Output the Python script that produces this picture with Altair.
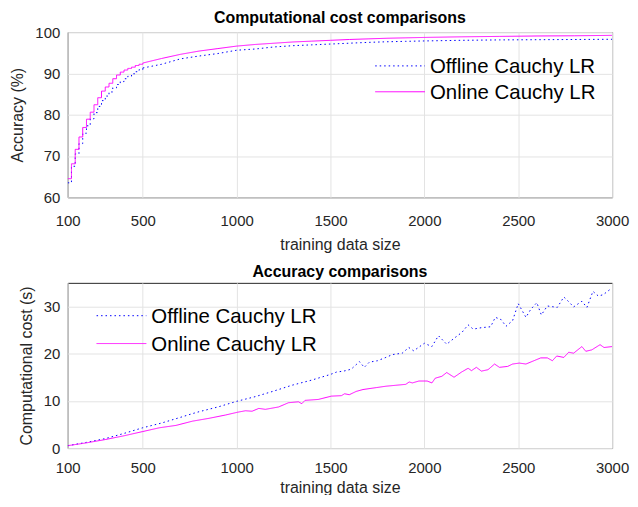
import altair as alt
import pandas as pd

SERIES = ["Offline Cauchy LR", "Online Cauchy LR"]
COLORS = ["#0000ff", "#ff00ff"]
DASHES = [[1.5, 3], [1, 0]]

# Top panel (accuracy, %)
top_x = [100, 120, 140, 160, 180, 200, 220, 240, 260, 280, 300, 320, 340, 360, 380, 400,
         420, 440, 460, 480, 500, 600, 700, 800, 900, 1000, 1100, 1200, 1300, 1400, 1500,
         1600, 1700, 1800, 1900, 2000, 2200, 2400, 2600, 2800, 3000]
top_offline = [63.5, 67.5, 70.5, 73.0, 75.5, 77.3, 79.0, 80.5, 82.0, 83.4, 84.5, 85.5, 86.5, 87.3,
               88.0, 88.7, 89.3, 89.9, 90.4, 90.9, 91.3, 92.2, 93.5, 94.2, 94.8, 95.6, 95.9, 96.4,
               96.7, 96.9, 97.1, 97.3, 97.5, 97.65, 97.75, 97.85, 98.0, 98.1, 98.15, 98.2, 98.25]
top_online = [64.5, 68.1, 71.6, 74.6, 76.9, 78.9, 80.6, 82.4, 84.1, 85.7, 86.7, 87.6, 88.7, 89.6,
              90.3, 90.8, 91.2, 91.5, 91.9, 92.2, 92.5, 93.6, 94.6, 95.4, 96.0, 96.6, 97.0, 97.3,
              97.6, 97.8, 98.0, 98.2, 98.35, 98.5, 98.6, 98.7, 98.85, 98.95, 99.05, 99.1, 99.2]

# Bottom panel (computational cost, s)
bot_off_x = [100, 200, 300, 400, 500, 600, 700, 765, 800, 900, 1000, 1100, 1200, 1294, 1400, 1500,
             1532, 1570, 1610, 1654, 1680, 1707, 1750, 1795, 1830, 1882, 1917, 1943, 2000, 2040,
             2075, 2119, 2163, 2200, 2233, 2260, 2304, 2353, 2378, 2409, 2435, 2470, 2500, 2541,
             2567, 2599, 2623, 2655, 2708, 2743, 2769, 2795, 2839, 2866, 2898, 2927, 2953, 2989, 3000]
bot_off_y = [0.5, 1.2, 2.0, 3.1, 4.3, 5.3, 6.5, 7.3, 7.7, 8.7, 9.9, 10.9, 12.1, 13.3, 14.4, 15.6,
             16.1, 16.3, 16.7, 18.3, 17.1, 18.2, 18.5, 19.2, 19.8, 20.1, 21.3, 20.6, 22.2, 21.5,
             23.8, 22.0, 23.4, 24.5, 26.1, 25.2, 25.5, 25.7, 27.7, 27.2, 25.8, 27.0, 30.6, 27.7,
             29.4, 30.8, 28.2, 30.1, 29.8, 32.0, 31.0, 29.9, 31.1, 29.8, 33.2, 32.2, 32.5, 33.6, 33.5]
bot_on_x = [100, 200, 300, 400, 500, 589, 677, 765, 853, 941, 1006, 1047, 1082, 1118, 1153, 1223,
            1276, 1329, 1347, 1364, 1435, 1505, 1558, 1575, 1600, 1637, 1673, 1743, 1795, 1848,
            1901, 1919, 1936, 1971, 2015, 2040, 2058, 2093, 2119, 2158, 2198, 2233, 2251, 2277,
            2304, 2339, 2374, 2400, 2444, 2470, 2506, 2541, 2620, 2655, 2682, 2705, 2743, 2769,
            2795, 2839, 2860, 2892, 2936, 2957, 3000]
bot_on_y = [0.5, 1.1, 1.8, 2.6, 3.5, 4.3, 4.8, 5.7, 6.3, 7.0, 7.6, 7.9, 7.8, 8.4, 8.2, 8.7,
            9.6, 9.8, 9.4, 10.1, 10.3, 11.0, 11.1, 11.5, 11.3, 12.0, 12.4, 12.8, 13.1, 13.3,
            13.5, 14.0, 13.8, 14.2, 14.2, 13.8, 14.8, 15.2, 16.0, 15.0, 16.1, 16.9, 16.4, 17.1,
            16.3, 16.6, 17.8, 17.1, 17.3, 17.8, 18.0, 17.8, 19.1, 19.1, 18.5, 19.5, 19.2, 20.3,
            20.1, 21.5, 20.5, 20.8, 21.9, 21.3, 21.5]

x_ticks = [100, 500, 1000, 1500, 2000, 2500, 3000]

top_df = pd.DataFrame({
    "x": top_x + top_x,
    "y": top_offline + top_online,
    "series": [SERIES[0]] * len(top_x) + [SERIES[1]] * len(top_x),
})
bot_df = pd.DataFrame({
    "x": bot_off_x + bot_on_x,
    "y": bot_off_y + bot_on_y,
    "series": [SERIES[0]] * len(bot_off_x) + [SERIES[1]] * len(bot_on_x),
})
leg_df = pd.DataFrame({"series": SERIES})

FONT = "Liberation Sans"
W = 547

color = alt.Color("series:N", scale=alt.Scale(domain=SERIES, range=COLORS), legend=None)
dash = alt.StrokeDash("series:N", scale=alt.Scale(domain=SERIES, range=DASHES), legend=None)


def xy(ytitle, ydomain, yticks, xpad, xtpad):
    return dict(
        x=alt.X("x:Q", scale=alt.Scale(domain=[100, 3000], nice=False),
                axis=alt.Axis(values=x_ticks, title="training data size", format="d", labelFlush=False,
                              labelPadding=xpad, titlePadding=xtpad)),
        y=alt.Y("y:Q", scale=alt.Scale(domain=ydomain, nice=False),
                axis=alt.Axis(values=yticks, title=ytitle, labelFlush=False)),
    )


def legend_layers(lx, rows):
    ly = alt.Y("series:N", scale=alt.Scale(type="point", domain=SERIES, range=rows, padding=0), axis=None)
    rules = alt.Chart(leg_df).mark_rule(strokeWidth=1).encode(
        x=alt.value(lx), x2=alt.value(lx + 50), y=ly, color=color, strokeDash=dash)
    texts = alt.Chart(leg_df).mark_text(align="left", baseline="middle", font=FONT, fontSize=20.5,
                                        color="#000000", dy=1).encode(
        x=alt.value(lx + 55), y=ly, text="series:N")
    return alt.layer(rules, texts)


def ttl(text, off):
    return alt.Title(text, fontSize=16, font=FONT, fontWeight="bold", offset=off, color="#000000")


top_enc = xy("Accuracy (%)", [60, 100], [60, 70, 80, 90, 100], 16, 8)
top_base = alt.Chart(top_df)
top_step = top_base.transform_filter("datum.x <= 500").mark_line(
    strokeWidth=1, interpolate="step-after", clip=True).encode(color=color, strokeDash=dash, **top_enc)
top_smooth = top_base.transform_filter("datum.x >= 500").mark_line(
    strokeWidth=1, interpolate="linear", clip=True).encode(color=color, strokeDash=dash, **top_enc)
top = alt.layer(alt.layer(top_step, top_smooth), legend_layers(309, [34, 60]),
                title=ttl("Computational cost comparisons", -1)).resolve_scale(
    y="independent").properties(width=W, height=166)

bot_lines = alt.Chart(bot_df).mark_line(strokeWidth=1, clip=True).encode(
    color=color, strokeDash=dash,
    **xy("Computational cost (s)", [0, 35], [0, 10, 20, 30], 13, 4))
bot = alt.layer(bot_lines, legend_layers(29, [33, 61]), title=ttl("Accuracy comparisons", 3)).resolve_scale(
    y="independent").properties(width=W, height=166)

chart = alt.vconcat(top, bot, spacing=10).properties(
    padding={"left": 1, "top": 0, "right": 0, "bottom": -3}
).configure_axis(
    labelFont=FONT, titleFont=FONT, labelFontSize=15, titleFontSize=16, labelColor="#262626",
    titleColor="#262626", titleFontWeight="normal", grid=True, gridColor="#e3e3e3",
    ticks=False, domain=False,
).configure_axisY(labelPadding=8, titlePadding=9).configure_view(stroke="#262626", strokeWidth=1)

chart.save("out.html", embed_options={"renderer": "svg", "actions": False})
